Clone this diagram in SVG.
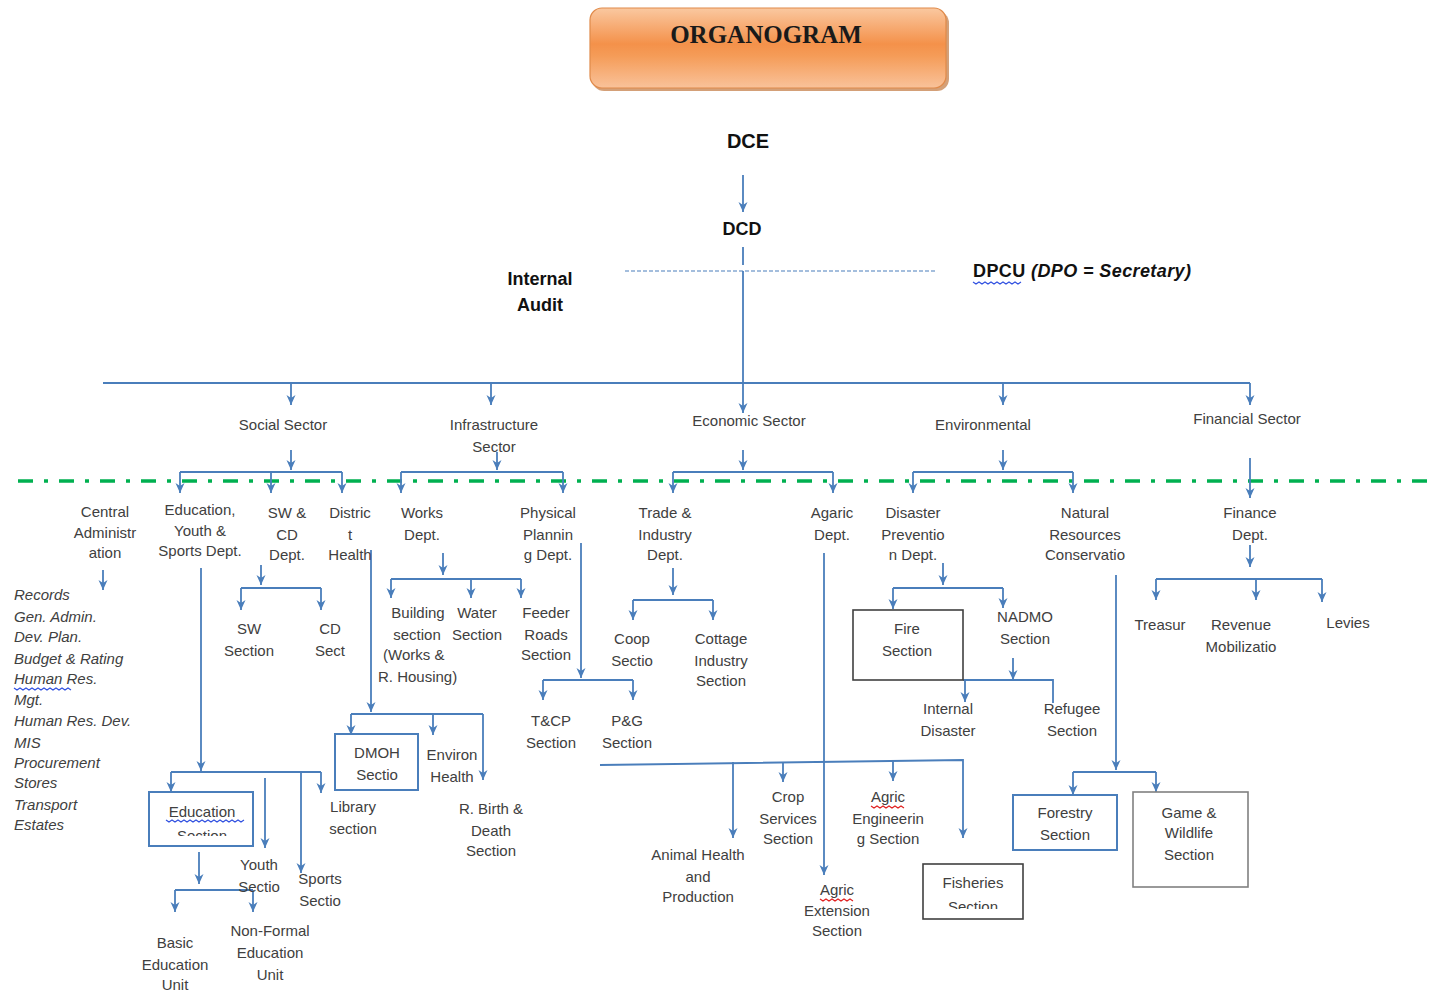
<svg xmlns="http://www.w3.org/2000/svg" width="1430" height="993" viewBox="0 0 1430 993">
<style>
text{font-family:"Liberation Sans",Arial,sans-serif;font-size:15px;fill:#404040;text-anchor:middle}
.b{font-weight:bold;fill:#111}
.it{font-style:italic;text-anchor:start}
.c{fill:none;stroke:#4A7EBB;stroke-width:1.8}
.a{fill:none;stroke:#4A7EBB;stroke-width:1.8;marker-end:url(#ah)}
.bx{fill:none;stroke:#4A7EBB;stroke-width:2}
.gx{fill:none;stroke:#404040;stroke-width:1.6}
.wb{fill:none;stroke:#3050E0;stroke-width:1.2}
.wr{fill:none;stroke:#E02020;stroke-width:1.2}
</style>
<defs>
<marker id="ah" viewBox="0 0 10 10" refX="10" refY="5" markerWidth="10" markerHeight="10" markerUnits="userSpaceOnUse" orient="auto">
<path d="M0,0.5 L10,5 L0,9.5 L3,5 z" fill="#4A7EBB"/>
</marker>
<linearGradient id="og" x1="0" y1="0" x2="0" y2="1">
<stop offset="0" stop-color="#FAC8A0"/>
<stop offset="0.45" stop-color="#F4914A"/>
<stop offset="0.6" stop-color="#F59C58"/>
<stop offset="1" stop-color="#F9C29A"/>
</linearGradient>
<clipPath id="clipEdu"><rect x="149" y="792" width="104" height="44"/></clipPath>
<clipPath id="clipFish"><rect x="923" y="864" width="100" height="45"/></clipPath>
</defs>
<rect width="1430" height="993" fill="#fff"/>

<g id="title">
<rect x="592" y="11" width="357" height="80" rx="12" fill="#B8601E" opacity="0.6"/>
<rect x="590" y="8" width="356" height="80" rx="12" fill="url(#og)" stroke="#E08A4A" stroke-width="1.2"/>
<text x="766" y="43" style="font-family:'Liberation Serif','Times New Roman',serif;font-size:25px;font-weight:bold;fill:#1a1a1a">ORGANOGRAM</text>
</g>

<g id="connectors">
<path class="a" d="M743,175 V212"/>
<path class="c" d="M743,247 V265 M743,271 V383"/>
<path d="M625,271 H935" fill="none" stroke="#4A7EBB" stroke-width="1.2" stroke-dasharray="4 2"/>
<path class="c" d="M103,383 H1250"/>
<path class="a" d="M291,383 V405"/>
<path class="a" d="M491,383 V405"/>
<path class="a" d="M743,383 V413"/>
<path class="a" d="M1003,383 V405"/>
<path class="a" d="M1250,383 V405"/>
<path d="M18,481 H1430" fill="none" stroke="#00B050" stroke-width="3.5" stroke-dasharray="15 11 4 11"/>
<path class="a" d="M291,450 V470"/>
<path class="c" d="M180,472 H342"/>
<path class="a" d="M180,472 V493"/>
<path class="a" d="M271,472 V493"/>
<path class="a" d="M342,472 V493"/>
<path class="a" d="M497,452 V470"/>
<path class="c" d="M401,472 H563"/>
<path class="a" d="M401,472 V493"/>
<path class="a" d="M563,472 V493"/>
<path class="a" d="M743,450 V470"/>
<path class="c" d="M673,472 H833"/>
<path class="a" d="M673,472 V493"/>
<path class="a" d="M833,472 V493"/>
<path class="a" d="M1003,450 V470"/>
<path class="c" d="M913,472 H1073"/>
<path class="a" d="M913,472 V493"/>
<path class="a" d="M1073,472 V493"/>
<path class="a" d="M1250,458 V498"/>
<path class="a" d="M103,570 V590"/>
<path class="a" d="M261,565 V585"/>
<path class="c" d="M241,588 H321"/>
<path class="a" d="M241,588 V610"/>
<path class="a" d="M321,588 V610"/>
<path class="a" d="M201,568 V771"/>
<path class="c" d="M171,772 H321"/>
<path class="a" d="M171,772 V792"/>
<path class="a" d="M321,772 V793"/>
<path class="a" d="M265,778 V848"/>
<path class="a" d="M301,772 V873"/>
<path class="a" d="M199,852 V884"/>
<path class="c" d="M175,890 H253"/>
<path class="a" d="M175,890 V912"/>
<path class="a" d="M253,890 V912"/>
<path class="a" d="M371,550 V712"/>
<path class="c" d="M351,714 H483"/>
<path class="a" d="M351,714 V735"/>
<path class="a" d="M433,714 V735"/>
<path class="a" d="M483,714 V780"/>
<path class="a" d="M443,553 V575"/>
<path class="c" d="M391,579 H521"/>
<path class="a" d="M391,579 V598"/>
<path class="a" d="M471,579 V598"/>
<path class="a" d="M521,579 V598"/>
<path class="a" d="M581,543 V678"/>
<path class="c" d="M543,680 H633"/>
<path class="a" d="M543,680 V700"/>
<path class="a" d="M633,680 V700"/>
<path class="a" d="M673,568 V595"/>
<path class="c" d="M633,600 H713"/>
<path class="a" d="M633,600 V620"/>
<path class="a" d="M713,600 V620"/>
<path class="a" d="M824,553 V875"/>
<path class="a" d="M600,765 L963,760 V838"/>
<path class="a" d="M733,762 V838"/>
<path class="a" d="M783,762 V782"/>
<path class="a" d="M893,761 V781"/>
<path class="a" d="M943,563 V585"/>
<path class="c" d="M893,588 H1003"/>
<path class="a" d="M893,588 V609"/>
<path class="a" d="M1003,588 V608"/>
<path class="a" d="M1013,658 V680"/>
<path class="c" d="M963,680 H1053 V703"/>
<path class="a" d="M965,680 V702"/>
<path class="a" d="M1116,575 V770"/>
<path class="c" d="M1073,772 H1156"/>
<path class="a" d="M1073,772 V795"/>
<path class="a" d="M1156,772 V792"/>
<path class="a" d="M1250,545 V567"/>
<path class="c" d="M1156,579 H1322"/>
<path class="a" d="M1156,579 V600"/>
<path class="a" d="M1256,579 V600"/>
<path class="a" d="M1322,579 V602"/>
</g>

<g id="dce"><text class="b" x="748" y="148" style="font-size:20px">DCE</text></g>
<g id="dcd"><text class="b" x="742" y="235" style="font-size:18px">DCD</text></g>
<g id="internal-audit"><text class="b" x="540" y="285" style="font-size:18px">Internal</text><text class="b" x="540" y="311" style="font-size:18px">Audit</text></g>
<g id="dpcu">
<text class="b" x="973" y="277" style="font-size:18px;letter-spacing:0.4px;text-anchor:start">DPCU <tspan style="font-style:italic">(DPO = Secretary)</tspan></text>
<path class="wb" d="M973,282 l3,2 l3,-2 l3,2 l3,-2 l3,2 l3,-2 l3,2 l3,-2 l3,2 l3,-2 l3,2 l3,-2 l3,2 l3,-2 l3,2 l3,-2"/>
</g>

<g id="social-sector"><text x="283" y="430">Social Sector</text></g>
<g id="infrastructure-sector"><text x="494" y="430">Infrastructure</text><text x="494" y="452">Sector</text></g>
<g id="economic-sector"><text x="749" y="426">Economic Sector</text></g>
<g id="environmental"><text x="983" y="430">Environmental</text></g>
<g id="financial-sector"><text x="1247" y="424">Financial Sector</text></g>

<g id="central-admin"><text x="105" y="517">Central</text><text x="105" y="538">Administr</text><text x="105" y="558">ation</text></g>
<g id="central-admin-list">
<text class="it" x="14" y="600">Records</text>
<text class="it" x="14" y="622">Gen. Admin.</text>
<text class="it" x="14" y="642">Dev. Plan.</text>
<text class="it" x="14" y="664">Budget &amp; Rating</text>
<text class="it" x="14" y="684">Human  Res.</text>
<path class="wb" d="M14,688 l3,2 l3,-2 l3,2 l3,-2 l3,2 l3,-2 l3,2 l3,-2 l3,2 l3,-2 l3,2 l3,-2 l3,2 l3,-2 l3,2 l3,-2 l3,2 l3,-2 l3,2"/>
<text class="it" x="14" y="705">Mgt.</text>
<text class="it" x="14" y="726">Human Res. Dev.</text>
<text class="it" x="14" y="748">MIS</text>
<text class="it" x="14" y="768">Procurement</text>
<text class="it" x="14" y="788">Stores</text>
<text class="it" x="14" y="810">Transport</text>
<text class="it" x="14" y="830">Estates</text>
</g>

<g id="education-dept"><text x="200" y="515">Education,</text><text x="200" y="536">Youth &amp;</text><text x="200" y="556">Sports Dept.</text></g>
<g id="swcd-dept"><text x="287" y="518">SW &amp;</text><text x="287" y="540">CD</text><text x="287" y="560">Dept.</text></g>
<g id="district-health"><text x="350" y="518">Distric</text><text x="350" y="540">t</text><text x="350" y="560">Health</text></g>
<g id="sw-section"><text x="249" y="634">SW</text><text x="249" y="656">Section</text></g>
<g id="cd-section"><text x="330" y="634">CD</text><text x="330" y="656">Sect</text></g>

<g id="education-section">
<rect class="bx" x="149" y="792" width="104" height="54"/>
<g clip-path="url(#clipEdu)"><text x="202" y="817">Education</text><text x="202" y="841">Section</text></g>
<path class="wb" d="M166,820 l3,2 l3,-2 l3,2 l3,-2 l3,2 l3,-2 l3,2 l3,-2 l3,2 l3,-2 l3,2 l3,-2 l3,2 l3,-2 l3,2 l3,-2 l3,2 l3,-2 l3,2 l3,-2 l3,2 l3,-2 l3,2 l3,-2 l3,2 l3,-2"/>
</g>
<g id="youth-section"><text x="259" y="870">Youth</text><text x="259" y="892">Sectio</text></g>
<g id="sports-section"><text x="320" y="884">Sports</text><text x="320" y="906">Sectio</text></g>
<g id="library-section"><text x="353" y="812">Library</text><text x="353" y="834">section</text></g>
<g id="basic-education"><text x="175" y="948">Basic</text><text x="175" y="970">Education</text><text x="175" y="990">Unit</text></g>
<g id="non-formal-education"><text x="270" y="936">Non-Formal</text><text x="270" y="958">Education</text><text x="270" y="980">Unit</text></g>

<g id="dmoh-section"><rect class="bx" x="335" y="734" width="83" height="56"/><text x="377" y="758">DMOH</text><text x="377" y="780">Sectio</text></g>
<g id="environ-health"><text x="452" y="760">Environ</text><text x="452" y="782">Health</text></g>
<g id="birth-death"><text x="491" y="814">R. Birth &amp;</text><text x="491" y="836">Death</text><text x="491" y="856">Section</text></g>

<g id="works-dept"><text x="422" y="518">Works</text><text x="422" y="540">Dept.</text></g>
<g id="building-section"><text x="418" y="618">Building</text><text x="417" y="640">section</text><text x="383" y="660" style="text-anchor:start">(Works &amp;</text><text x="378" y="682" style="text-anchor:start">R. Housing)</text></g>
<g id="water-section"><text x="477" y="618">Water</text><text x="477" y="640">Section</text></g>
<g id="feeder-roads"><text x="546" y="618">Feeder</text><text x="546" y="640">Roads</text><text x="546" y="660">Section</text></g>

<g id="physical-planning"><text x="548" y="518">Physical</text><text x="548" y="540">Plannin</text><text x="548" y="560">g Dept.</text></g>
<g id="tcp-section"><text x="551" y="726">T&amp;CP</text><text x="551" y="748">Section</text></g>
<g id="pg-section"><text x="627" y="726">P&amp;G</text><text x="627" y="748">Section</text></g>

<g id="trade-industry"><text x="665" y="518">Trade &amp;</text><text x="665" y="540">Industry</text><text x="665" y="560">Dept.</text></g>
<g id="coop-section"><text x="632" y="644">Coop</text><text x="632" y="666">Sectio</text></g>
<g id="cottage-industry"><text x="721" y="644">Cottage</text><text x="721" y="666">Industry</text><text x="721" y="686">Section</text></g>

<g id="agric-dept"><text x="832" y="518">Agaric</text><text x="832" y="540">Dept.</text></g>
<g id="animal-health"><text x="698" y="860">Animal Health</text><text x="698" y="882">and</text><text x="698" y="902">Production</text></g>
<g id="crop-services"><text x="788" y="802">Crop</text><text x="788" y="824">Services</text><text x="788" y="844">Section</text></g>
<g id="agric-engineering"><text x="888" y="802">Agric</text><path class="wr" d="M871,806 l3,2 l3,-2 l3,2 l3,-2 l3,2 l3,-2 l3,2 l3,-2 l3,2 l3,-2 l3,2"/><text x="888" y="824">Engineerin</text><text x="888" y="844">g Section</text></g>
<g id="agric-extension"><text x="837" y="895">Agric</text><path class="wr" d="M820,899 l3,2 l3,-2 l3,2 l3,-2 l3,2 l3,-2 l3,2 l3,-2 l3,2 l3,-2 l3,2"/><text x="837" y="916">Extension</text><text x="837" y="936">Section</text></g>
<g id="fisheries-section"><rect class="gx" x="923" y="864" width="100" height="55"/><g clip-path="url(#clipFish)"><text x="973" y="888">Fisheries</text><text x="973" y="912">Section</text></g></g>

<g id="disaster-prevention"><text x="913" y="518">Disaster</text><text x="913" y="540">Preventio</text><text x="913" y="560">n Dept.</text></g>
<g id="fire-section"><rect class="gx" x="853" y="610" width="110" height="70"/><text x="907" y="634">Fire</text><text x="907" y="656">Section</text></g>
<g id="nadmo-section"><text x="1025" y="622">NADMO</text><text x="1025" y="644">Section</text></g>
<g id="internal-disaster"><text x="948" y="714">Internal</text><text x="948" y="736">Disaster</text></g>
<g id="refugee-section"><text x="1072" y="714">Refugee</text><text x="1072" y="736">Section</text></g>

<g id="natural-resources"><text x="1085" y="518">Natural</text><text x="1085" y="540">Resources</text><text x="1085" y="560">Conservatio</text></g>
<g id="forestry-section"><rect class="bx" x="1013" y="795" width="104" height="55"/><text x="1065" y="818">Forestry</text><text x="1065" y="840">Section</text></g>
<g id="game-wildlife"><rect class="gx" x="1133" y="792" width="115" height="95" style="stroke:#808080"/><text x="1189" y="818">Game &amp;</text><text x="1189" y="838">Wildlife</text><text x="1189" y="860">Section</text></g>

<g id="finance-dept"><text x="1250" y="518">Finance</text><text x="1250" y="540">Dept.</text></g>
<g id="treasury"><text x="1160" y="630">Treasur</text></g>
<g id="revenue"><text x="1241" y="630">Revenue</text><text x="1241" y="652">Mobilizatio</text></g>
<g id="levies"><text x="1348" y="628">Levies</text></g>
</svg>
